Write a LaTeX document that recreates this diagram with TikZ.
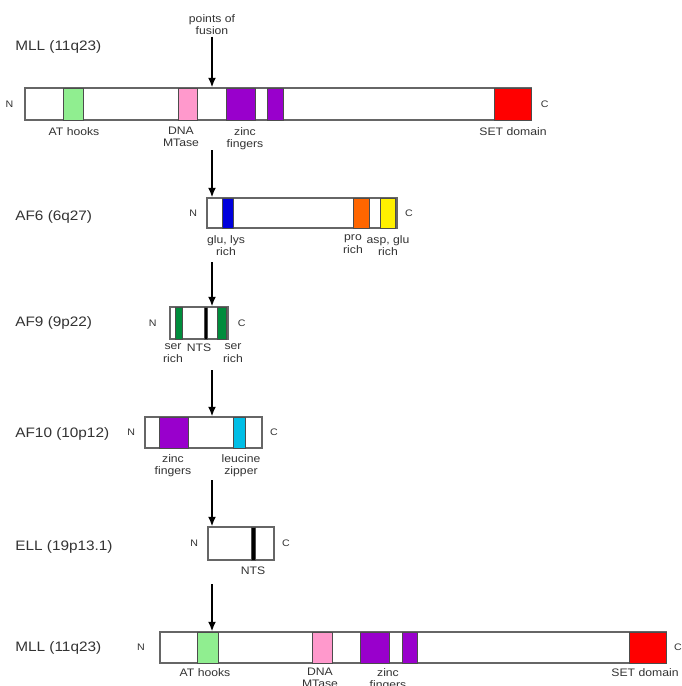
\documentclass[tikz,border=0pt]{standalone}
\usepackage{fontspec}
\setmainfont{Liberation Sans}[FakeStretch=1.12]
\usetikzlibrary{arrows.meta,positioning,fit}

\definecolor{athook}{RGB}{144,238,144}
\definecolor{mtase}{RGB}{255,153,204}
\definecolor{zincf}{RGB}{153,0,204}
\definecolor{setdom}{RGB}{255,0,0}
\definecolor{glulys}{RGB}{0,0,220}
\definecolor{prorich}{RGB}{255,102,0}
\definecolor{aspglu}{RGB}{255,240,0}
\definecolor{serrich}{RGB}{0,140,60}
\definecolor{leuzip}{RGB}{0,190,230}

\begin{document}
\begin{tikzpicture}[
    x=0.02cm, y=-0.02cm,
    gene/.style={font=\fontsize{7.8}{9}\selectfont, text=black!80, anchor=west, inner sep=0pt},
    term/.style={font=\fontsize{5.4}{6}\selectfont, text=black!80, inner sep=0pt},
    lab/.style={font=\fontsize{6.2}{7}\selectfont, text=black!80, align=center, anchor=north, inner sep=1pt},
    bar/.style={rectangle, draw=black!60, line width=0.8pt, fill=white, inner sep=0pt},
    dom/.style={rectangle, draw=black!70, line width=0.5pt, inner sep=0pt},
    fusion/.style={-{Latex[length=1.9mm,width=1.6mm]}, line width=0.9pt, draw=black}
]

\fill[white] (0,0) rectangle (681,686);
\useasboundingbox (0,0) rectangle (681,686);

% =========================================================
% MLL (top)
% =========================================================
\node[gene] (mllAname) at (15,47) {MLL (11q23)};
\node[lab] (pof) at (212,12) {points of\\fusion};

\node[bar, fit={(25,88) (531,120)}] (mllA) {};
\node[dom, fill=athook, fit={(63,88) (83,120)}] (mllAat) {};
\node[dom, fill=mtase, fit={(178,88) (197,120)}] (mllAmt) {};
\node[dom, fill=zincf, fit={(226,88) (255,120)}] (mllAzfa) {};
\node[dom, fill=zincf, fit={(267,88) (283,120)}] (mllAzfb) {};
\node[dom, fill=setdom, fit={(494,88) (531,120)}] (mllAset) {};
\node[term, left=6pt of mllA] (mllAn) {N};
\node[term, right=5pt of mllA] (mllAc) {C};

\node[lab] (mllAatl) at (74,125) {AT hooks};
\node[lab] (mllAmtl) at (181,125) {DNA\\MTase};
\node[lab] (mllAzfl) at (245,125) {zinc\\fingers};
\node[lab] (mllAsetl) at (513,125) {SET domain};

\draw[fusion] (pof.south) -- (pof.south |- mllA.north);

% =========================================================
% AF6
% =========================================================
\coordinate (cutA) at (212,150);
\node[gene] (af6name) at (15,217) {AF6 (6q27)};

\node[bar, fit={(207,198) (397,228)}] (af6) {};
\node[dom, fill=glulys, fit={(222,198) (233,228)}] (af6gl) {};
\node[dom, fill=prorich, fit={(353,198) (369,228)}] (af6pro) {};
\node[dom, fill=aspglu, fit={(380,198) (395,228)}] (af6ag) {};
\node[term, left=5pt of af6] (af6n) {N};
\node[term, right=4pt of af6] (af6c) {C};

\node[lab] (af6gll) at (226,233) {glu, lys\\rich};
\node[lab] (af6prol) at (353,233) {pro\\rich};
\node[lab] (af6agl) at (388,233) {asp, glu\\rich};

\draw[fusion] (cutA) -- (cutA |- af6.north);

% =========================================================
% AF9
% =========================================================
\coordinate (cutB) at (212,262);
\node[gene] (af9name) at (15,323) {AF9 (9p22)};

\node[bar, fit={(170,307) (228,339)}] (af9) {};
\node[dom, fill=serrich, fit={(175,307) (182,339)}] (af9sa) {};
\node[dom, fill=black, fit={(204,307) (207,339)}] (af9nts) {};
\node[dom, fill=serrich, fit={(217,307) (226,339)}] (af9sb) {};
\node[term, left=7pt of af9] (af9n) {N};
\node[term, right=5pt of af9] (af9c) {C};

\node[lab] (af9sal) at (173,342) {ser\\rich};
\node[lab] (af9ntsl) at (199,342) {NTS};
\node[lab] (af9sbl) at (233,342) {ser\\rich};

\draw[fusion] (cutB) -- (cutB |- af9.north);

% =========================================================
% AF10
% =========================================================
\coordinate (cutC) at (212,370);
\node[gene] (af10name) at (15,434) {AF10 (10p12)};

\node[bar, fit={(145,417) (262,448)}] (af10) {};
\node[dom, fill=zincf, fit={(159,417) (188,448)}] (af10zf) {};
\node[dom, fill=leuzip, fit={(233,417) (245,448)}] (af10lz) {};
\node[term, left=5pt of af10] (af10n) {N};
\node[term, right=4pt of af10] (af10c) {C};

\node[lab] (af10zfl) at (173,452) {zinc\\fingers};
\node[lab] (af10lzl) at (241,452) {leucine\\zipper};

\draw[fusion] (cutC) -- (cutC |- af10.north);

% =========================================================
% ELL
% =========================================================
\coordinate (cutD) at (212,480);
\node[gene] (ellname) at (15,547) {ELL (19p13.1)};

\node[bar, fit={(208,527) (274,560)}] (ell) {};
\node[dom, fill=black, fit={(251,527) (255,560)}] (ellnts) {};
\node[term, left=5pt of ell] (elln) {N};
\node[term, right=4pt of ell] (ellc) {C};

\node[lab] (ellntsl) at (253,565) {NTS};

\draw[fusion] (cutD) -- (cutD |- ell.north);

% =========================================================
% MLL (bottom)
% =========================================================
\coordinate (cutE) at (212,584);
\node[gene] (mllBname) at (15,648) {MLL (11q23)};

\node[bar, fit={(160,632) (666,663)}] (mllB) {};
\node[dom, fill=athook, fit={(197,632) (218,663)}] (mllBat) {};
\node[dom, fill=mtase, fit={(312,632) (332,663)}] (mllBmt) {};
\node[dom, fill=zincf, fit={(360,632) (389,663)}] (mllBzfa) {};
\node[dom, fill=zincf, fit={(402,632) (417,663)}] (mllBzfb) {};
\node[dom, fill=setdom, fit={(629,632) (666,663)}] (mllBset) {};
\node[term, left=8pt of mllB] (mllBn) {N};
\node[term, right=4pt of mllB] (mllBc) {C};

\node[lab] (mllBatl) at (205,666) {AT hooks};
\node[lab] (mllBmtl) at (320,666) {DNA\\MTase};
\node[lab] (mllBzfl) at (388,666) {zinc\\fingers};
\node[lab] (mllBsetl) at (645,666) {SET domain};

\draw[fusion] (cutE) -- (cutE |- mllB.north);

\end{tikzpicture}
\end{document}
